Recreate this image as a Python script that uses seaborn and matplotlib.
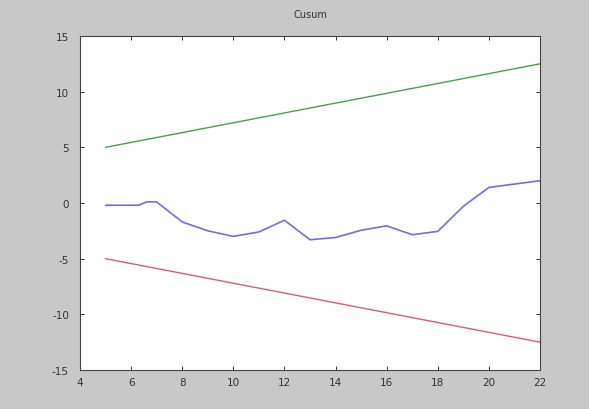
import matplotlib
matplotlib.use("Agg")
import matplotlib.pyplot as plt
import seaborn as sns
import pandas as pd

# Data
cusum_x = [5, 6.3, 6.6, 7, 8, 9, 10, 11, 12, 13, 14, 15, 16, 17, 18, 19, 20, 21, 22]
cusum_y = [-0.2, -0.2, 0.1, 0.1, -1.7, -2.5, -3.0, -2.6, -1.55, -3.3, -3.1, -2.45,
           -2.05, -2.85, -2.55, -0.3, 1.4, 1.7, 2.0]
upper_x = [5, 22]
upper_y = [5, 12.5]
lower_x = [5, 22]
lower_y = [-5, -12.5]
x_ticks = [4, 6, 8, 10, 12, 14, 16, 18, 20, 22]
y_ticks = [-15, -10, -5, 0, 5, 10, 15]
title = "Cusum"

sns.set_style("white")
plt.rcParams['font.family'] = ['DejaVu Sans']

fig = plt.figure(figsize=(5.89, 4.10), dpi=100, facecolor="#c8c8c8")
ax = fig.add_axes([80/589, 39/410, 460/589, 334/410])
ax.set_facecolor("white")

sns.lineplot(x=upper_x, y=upper_y, ax=ax, color="#4aa04a", linewidth=1.0)
sns.lineplot(x=lower_x, y=lower_y, ax=ax, color="#e2586a", linewidth=1.0)
sns.lineplot(x=cusum_x, y=cusum_y, ax=ax, color="#6e6ee0", linewidth=1.2)

ax.set_xlim(4, 22)
ax.set_ylim(-15, 15)
ax.set_xticks(x_ticks)
ax.set_yticks(y_ticks)
ax.set_xticklabels([str(t) for t in x_ticks])
ax.set_yticklabels([str(t) for t in y_ticks])
ax.tick_params(direction="in", length=3, width=0.7, labelsize=7.5, colors="#333333",
               top=True, right=True, bottom=True, left=True)
ax.tick_params(axis="y", pad=8)
ax.tick_params(axis="x", pad=5)
for s in ax.spines.values():
    s.set_visible(True)
    s.set_color("#444444")
    s.set_linewidth(0.8)
ax.set_title(title, fontsize=7, color="#333333", pad=14)

fig.savefig("out.png", dpi=100, facecolor=fig.get_facecolor())
